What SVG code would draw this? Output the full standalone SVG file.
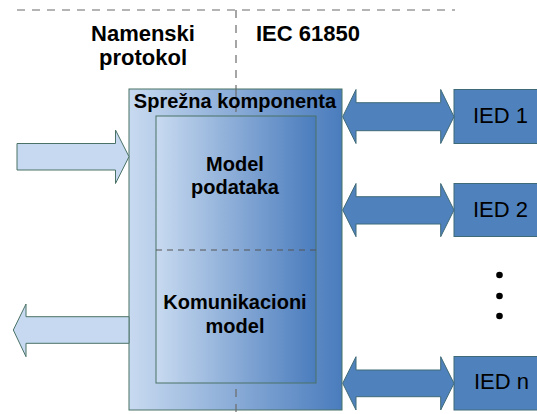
<svg xmlns="http://www.w3.org/2000/svg" width="537" height="414" viewBox="0 0 537 414">
<style>
.t{font-family:"Liberation Sans",Arial,sans-serif;fill:#000}
.b{font-weight:bold}
.dash{stroke:#6b6b6b;stroke-width:1.2;stroke-dasharray:8,7;fill:none}
.light{fill:#c6d9f1;stroke:#4a7266;stroke-width:1}
.blue{fill:#4f81bd;stroke:#3f6b78;stroke-width:1}
</style>
<defs>
<linearGradient id="g" x1="0" y1="0" x2="1" y2="0">
<stop offset="0" stop-color="#c8daf0"/>
<stop offset="1" stop-color="#4a7cbd"/>
</linearGradient>
</defs>
<rect width="537" height="414" fill="#fff"/>
<g id="dividers">
<line class="dash" x1="17" y1="10" x2="455" y2="10"/>
<line class="dash" x1="236" y1="10" x2="236" y2="89"/>
</g>
<g id="labels">
<text class="t b" x="143" y="41" font-size="22" text-anchor="middle">Namenski</text>
<text class="t b" x="143" y="65" font-size="22" text-anchor="middle">protokol</text>
<text class="t b" x="256" y="41" font-size="22">IEC 61850</text>
</g>
<g id="sprezna">
<rect x="129" y="89" width="213" height="321" fill="url(#g)" stroke="#4a7266" stroke-width="1"/>
<line class="dash" x1="236" y1="89" x2="236" y2="414"/>
<text class="t b" x="235" y="108" font-size="20" text-anchor="middle">Sprežna komponenta</text>
</g>
<g id="inner">
<rect x="156" y="116" width="160" height="267" fill="url(#g)" stroke="#4a7266" stroke-width="1"/>
<line x1="156" y1="250" x2="316" y2="250" stroke="#555" stroke-width="1.2" stroke-dasharray="6,5"/>
</g>
<g id="model-podataka">
<text class="t b" x="235" y="171" font-size="20" text-anchor="middle">Model</text>
<text class="t b" x="235" y="194" font-size="20" text-anchor="middle">podataka</text>
</g>
<g id="komunikacioni-model">
<text class="t b" x="235" y="309" font-size="20" text-anchor="middle">Komunikacioni</text>
<text class="t b" x="235" y="333" font-size="20" text-anchor="middle">model</text>
</g>
<g id="ied1">
<rect class="blue" x="454" y="89.5" width="90" height="54"/>
<text class="t" x="473" y="123" font-size="22">IED 1</text>
</g>
<g id="ied2">
<rect class="blue" x="454" y="183.5" width="90" height="53"/>
<text class="t" x="473" y="217" font-size="22">IED 2</text>
</g>
<g id="ellipsis">
<circle cx="499.5" cy="275" r="3.3" fill="#000"/>
<circle cx="499.5" cy="296" r="3.3" fill="#000"/>
<circle cx="499.5" cy="316" r="3.3" fill="#000"/>
</g>
<g id="iedn">
<rect class="blue" x="454" y="356.5" width="90" height="53.5"/>
<text class="t" x="474" y="389" font-size="22">IED n</text>
</g>
<g id="connectors">
<path class="light" d="M17,143.5 H115.5 V130 L129,156.7 L115.5,183.5 V170 H17 Z"/>
<path class="light" d="M129,316.7 H26 V304 L13.3,330 L26,356.7 V343.3 H129 Z"/>
<path class="blue" d="M342.7,116.7 L356,89.5 V102.7 H440.7 V89.5 L454,116.7 L440.7,143.5 V130.7 H356 V143.5 Z"/>
<path class="blue" d="M342.7,210 L356,183.5 V196.7 H440.7 V183.5 L454,210 L440.7,236.7 V224 H356 V236.7 Z"/>
<path class="blue" d="M342.7,383.3 L356,356.7 V370 H440.7 V356.7 L454,383.3 L440.7,410 V396.7 H356 V410 Z"/>
</g>
</svg>
